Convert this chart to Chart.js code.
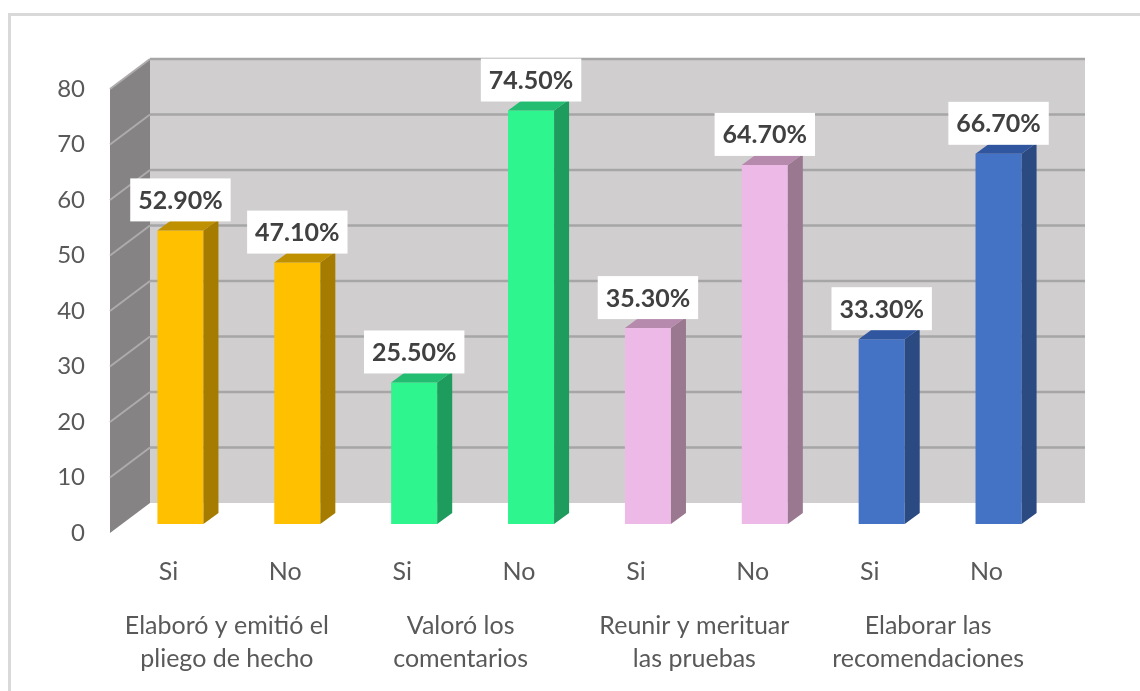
<!DOCTYPE html>
<html>
<head>
<meta charset="utf-8">
<script src="https://cdn.jsdelivr.net/npm/chart.js@4.4.0/dist/chart.umd.min.js"></script>
<style>
  html, body { margin: 0; padding: 0; background: #fff; overflow: hidden; }
  canvas { display: block; }
</style>
</head>
<body>
<canvas id="chart" width="1140" height="691"></canvas>
<script>
// ── data
const answers = ['Si', 'No', 'Si', 'No', 'Si', 'No', 'Si', 'No'];
const groups = [
  ['Elaboró y emitió el', 'pliego de hecho'],
  ['Valoró los', 'comentarios'],
  ['Reunir y merituar', 'las pruebas'],
  ['Elaborar las', 'recomendaciones'],
];
const percentages = [52.9, 47.1, 25.5, 74.5, 35.3, 64.7, 33.3, 66.7];
const yTicks = [0, 10, 20, 30, 40, 50, 60, 70, 80];

// front / side / top shading per bar
const frontColors = ['#FFC000', '#FFC000', '#2EF58D', '#2EF58D', '#EDB9E6', '#EDB9E6', '#4472C4', '#4472C4'];
const sideColors  = ['#A67C00', '#A67C00', '#1E9C5E', '#1E9C5E', '#9A7890', '#9A7890', '#2B4A82', '#2B4A82'];
const topColors   = ['#BF9000', '#BF9000', '#22BD70', '#22BD70', '#B58AAD', '#B58AAD', '#3056A0', '#3056A0'];

// ── fake 3d offsets (oblique projection)
const WALL_DX = 40, WALL_DY = -30;   // back wall behind the axis plane
const BAR_DX = 12, BAR_DY = -9;      // bars sit a bit into the box
const FACE_DX = 15, FACE_DY = -11;   // bar depth

const TEXT = '#595959';

function poly(ctx, pts, fill) {
  ctx.beginPath();
  ctx.moveTo(pts[0][0], pts[0][1]);
  for (let i = 1; i < pts.length; i++) ctx.lineTo(pts[i][0], pts[i][1]);
  ctx.closePath();
  ctx.fillStyle = fill;
  ctx.fill();
}

const depth3d = {
  id: 'depth3d',
  beforeDraw(chart) {
    const ctx = chart.ctx;
    ctx.save();
    ctx.strokeStyle = '#D9D9D9';
    ctx.lineWidth = 3;
    ctx.strokeRect(9.5, 14.5, 1300, 900);
    ctx.restore();
  },
  beforeDatasetsDraw(chart) {
    const { ctx, chartArea: a, scales: { y } } = chart;
    const top = y.getPixelForValue(yTicks[yTicks.length - 1]);
    const bot = y.getPixelForValue(0);
    ctx.save();
    // back wall
    ctx.fillStyle = '#D0CECE';
    ctx.fillRect(a.left + WALL_DX, top + WALL_DY, a.right - a.left, bot - top);
    // side wall
    poly(ctx, [[a.left, top], [a.left + WALL_DX, top + WALL_DY], [a.left + WALL_DX, bot + WALL_DY], [a.left, bot]], '#858383');
    // gridlines
    yTicks.slice(1).forEach(v => {
      const py = y.getPixelForValue(v);
      ctx.lineWidth = 2.5;
      ctx.strokeStyle = '#A6A6A6';
      ctx.beginPath();
      ctx.moveTo(a.left + WALL_DX, py + WALL_DY);
      ctx.lineTo(a.right + WALL_DX, py + WALL_DY);
      ctx.stroke();
      ctx.lineWidth = 2;
      ctx.strokeStyle = '#ADABAB';
      ctx.beginPath();
      ctx.moveTo(a.left, py);
      ctx.lineTo(a.left + WALL_DX, py + WALL_DY);
      ctx.stroke();
    });
    ctx.restore();
  },
  beforeDatasetDraw(chart) {
    chart.ctx.save();
    chart.ctx.translate(BAR_DX, BAR_DY);
  },
  afterDatasetDraw(chart, args) {
    const ctx = chart.ctx;
    args.meta.data.forEach((bar, i) => {
      const { x, y, base, width } = bar.getProps(['x', 'y', 'base', 'width'], true);
      const l = x - width / 2, r = x + width / 2;
      poly(ctx, [[r, y], [r + FACE_DX, y + FACE_DY], [r + FACE_DX, base + FACE_DY], [r, base]], sideColors[i]);
      poly(ctx, [[l, y], [l + FACE_DX, y + FACE_DY], [r + FACE_DX, y + FACE_DY], [r, y]], topColors[i]);
    });
    ctx.restore();
  },
  afterDatasetsDraw(chart) {
    const ctx = chart.ctx;
    const meta = chart.getDatasetMeta(0);
    ctx.save();
    ctx.font = 'bold 25px Lato';
    ctx.textAlign = 'center';
    ctx.textBaseline = 'middle';
    meta.data.forEach((bar, i) => {
      const { x, y } = bar.getProps(['x', 'y'], true);
      const label = percentages[i].toFixed(2) + '%';
      const w = ctx.measureText(label).width + 16;
      const h = 43;
      const cx = x + BAR_DX;
      const bottom = y + BAR_DY - 9;
      ctx.fillStyle = '#FFFFFF';
      ctx.fillRect(cx - w / 2, bottom - h, w, h);
      ctx.fillStyle = '#404040';
      ctx.fillText(label, cx, bottom - h / 2 + 1);
    });
    ctx.restore();
  }
};

new Chart(document.getElementById('chart'), {
  type: 'bar',
  data: {
    labels: answers,
    datasets: [{
      data: percentages,
      backgroundColor: frontColors,
      borderWidth: 0,
      categoryPercentage: 1,
      barPercentage: 0.394,
      clip: false,
    }],
  },
  options: {
    responsive: false,
    animation: false,
    devicePixelRatio: 1,
    layout: { padding: { left: 0, right: 95, top: 89, bottom: 0 } },
    plugins: { legend: { display: false }, tooltip: { enabled: false } },
    scales: {
      y: {
        min: 0,
        max: 80,
        ticks: { stepSize: 10, padding: 25, color: TEXT, font: { family: 'Lato', size: 24 } },
        grid: { display: false, drawTicks: false },
        border: { display: false },
        afterFit(s) { s.width = 110; },
      },
      x: {
        weight: 1,
        ticks: { padding: 24, color: TEXT, maxRotation: 0, autoSkip: false, font: { family: 'Lato', size: 25 } },
        grid: { display: false, drawTicks: false },
        border: { display: false },
        afterFit(s) { s.height = 70; },
      },
      x2: {
        type: 'category',
        position: 'bottom',
        weight: 2,
        labels: groups,
        offset: true,
        ticks: { padding: 6, color: TEXT, maxRotation: 0, autoSkip: false, font: { family: 'Lato', size: 25, lineHeight: 1.32 } },
        grid: { display: false, drawTicks: false },
        border: { display: false },
        afterFit(s) { s.height = 88; },
      },
    },
  },
  plugins: [depth3d],
});
</script>
</body>
</html>
